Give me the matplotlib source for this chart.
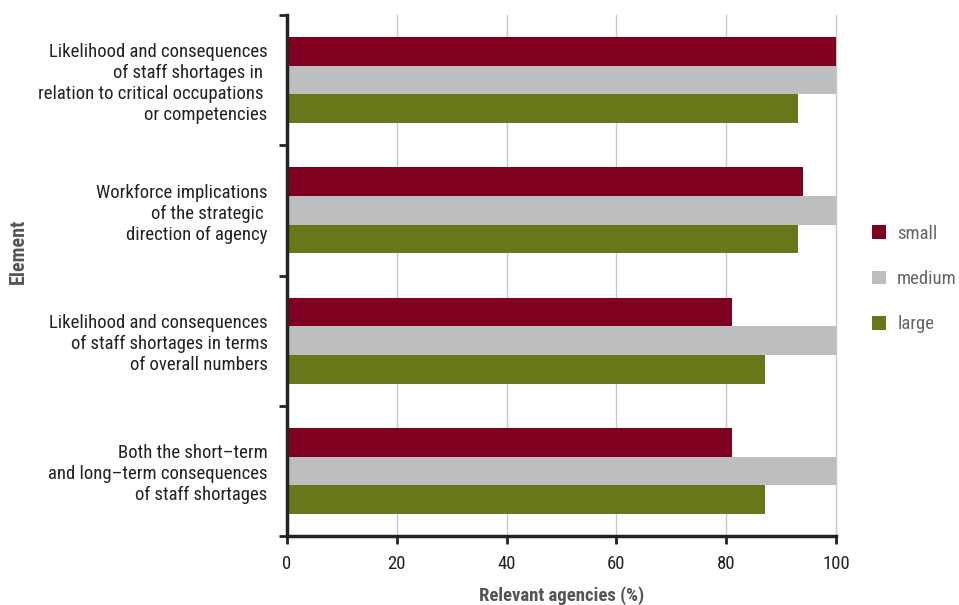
import matplotlib
matplotlib.use("Agg")
import matplotlib.pyplot as plt
import numpy as np
from matplotlib.patches import Patch
from matplotlib import font_manager

available = {f.name for f in font_manager.fontManager.ttflist}
fam = None
for cand, sz, ls in [('Roboto Condensed', 13.5, 1.21), ('Liberation Sans Narrow', 13.5, 1.2),
                     ('Open Sans Condensed', 13, 1.2)]:
    if cand in available:
        fam, FS, LS = cand, sz, ls
        break
if fam is None:
    fam, FS, LS = 'Liberation Sans', 12, 1.4
plt.rcParams['font.family'] = [fam, 'DejaVu Sans']

categories = [
    "Likelihood and consequences\nof staff shortages in \nrelation to critical occupations \nor competencies",
    "Workforce implications\nof the strategic \ndirection of agency",
    "Likelihood and consequences\nof staff shortages in terms\nof overall numbers",
    "Both the short\u2013term\nand long\u2013term consequences\nof staff shortages",
]
series_names = ["small", "medium", "large"]
small = [100, 94, 81, 81]
medium = [100, 100, 100, 100]
large = [93, 93, 87, 87]
x_ticks = [0, 20, 40, 60, 80, 100]

colors = ["#800020", "#BDBEC0", "#677719"]

fig = plt.figure(figsize=(9.59, 6.05), dpi=100)
ax = fig.add_axes([287/959, 1-536/605, (836-287)/959, (536-15)/605])

n = len(categories)
centers = np.arange(n) + 0.5
bh = 0.22
for k, (vals, col, name) in enumerate(zip([small, medium, large], colors, series_names)):
    ax.barh(centers + (k-1)*bh, vals, height=bh, color=col, label=name, zorder=2)

ax.set_ylim(n, 0)
ax.set_xlim(0, 100)
ax.set_xticks(x_ticks)
ax.set_xticklabels([str(v) for v in x_ticks])
ax.set_yticks(np.arange(n+1))
ax.set_yticklabels([])
ax.set_yticks(centers, minor=True)
ax.set_yticklabels(categories, minor=True, fontsize=FS, color="#222222",
                   multialignment='right', linespacing=LS)
ax.tick_params(axis='y', which='minor', length=0, pad=14)
ax.tick_params(axis='y', which='major', length=6, width=2, color="#222222", direction='out')
ax.tick_params(axis='x', which='major', length=6, width=2, color="#222222", direction='out',
               labelsize=FS, labelcolor="#222222", pad=8)

ax.grid(axis='x', color="#C8C8C8", linewidth=1, zorder=0)
ax.set_axisbelow(True)
for gl in ax.get_xgridlines():
    gl.set_clip_on(False)
for s in ['top', 'right']:
    ax.spines[s].set_visible(False)
for s in ['left', 'bottom']:
    ax.spines[s].set_linewidth(2.5)
    ax.spines[s].set_color("#222222")
    ax.spines[s].set_zorder(3)

ax.set_xlabel("Relevant agencies (%)", fontsize=FS, fontweight='bold', color="#555555", labelpad=9.5)
fig.text(18/959, 1-251/605, "Element", rotation=90, fontsize=14.5, fontweight='bold',
         color="#555555", ha='center', va='center')

handles = [Patch(facecolor=c, label=nm) for c, nm in zip(colors, series_names)]
leg = fig.legend(handles=handles, loc='center left', bbox_to_anchor=(855/959, 1-279/605),
                 frameon=False, fontsize=FS, handlelength=0.75, handleheight=0.75,
                 labelspacing=1.45, handletextpad=0.6, labelcolor="#666666")

fig.savefig("out.png", dpi=100)
